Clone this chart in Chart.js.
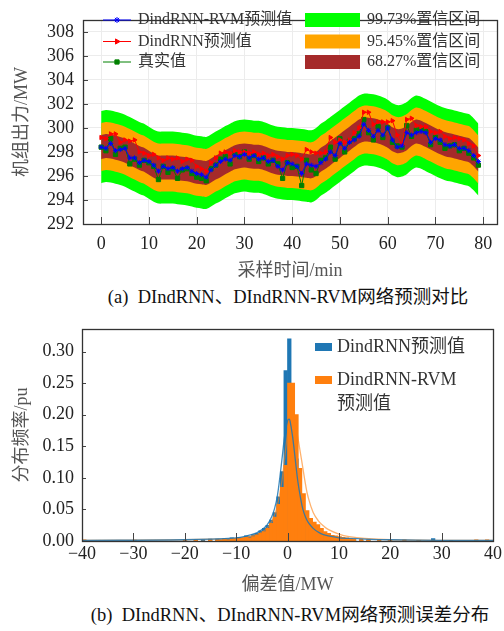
<!DOCTYPE html>
<html>
<head>
<meta charset="utf-8">
<script src="https://cdn.jsdelivr.net/npm/chart.js"></script>
<style>
body{margin:0;background:#fff;width:504px;height:631px;overflow:hidden;position:relative;
  font-family:"Liberation Serif","Noto Sans CJK SC",serif;}
#graficoPrediccion{position:absolute;left:0;top:0;}
#graficoError{position:absolute;left:0;top:310px;}
.pie{position:absolute;width:504px;text-align:center;font-size:18.5px;color:#111;white-space:pre;line-height:22px;}
</style>
</head>
<body>
<canvas id="graficoPrediccion" width="504" height="285"></canvas>
<div class="pie" style="left:36px;top:286px;">(a)  DIndRNN、DIndRNN-RVM网络预测对比</div>
<canvas id="graficoError" width="504" height="290"></canvas>
<div class="pie" style="left:38px;top:604px;">(b)  DIndRNN、DIndRNN-RVM网络预测误差分布</div>
<script>
//datos grafico (a)
const minutos = Array.from({length: 80}, (_, i) => i);

const valorReal = [
  298.4, 298.1, 299.1, 297.8, 298.3, 298.4, 297.0, 297.4, 296.9, 297.3,
  297.1, 296.8, 295.7, 296.8, 296.3, 296.6, 295.8, 296.5, 296.6, 296.2,
  295.9, 295.8, 295.6, 296.6, 296.9, 297.4, 297.6, 297.0, 297.9, 297.6,
  298.0, 297.4, 297.7, 297.2, 297.5, 297.0, 297.3, 297.0, 295.8, 297.1,
  296.7, 296.8, 295.2, 297.3, 296.5, 296.2, 297.3, 297.5, 298.4, 297.4,
  299.1, 298.0, 298.9, 299.1, 299.5, 300.7, 299.6, 299.0, 300.1, 299.2,
  300.0, 298.8, 298.5, 298.4, 300.2, 299.3, 299.8, 299.9, 299.7, 298.6,
  299.2, 298.8, 298.3, 298.5, 298.6, 298.1, 298.3, 297.9, 297.5, 296.9
];
const prediccionRVM = [
  298.4, 298.3, 298.7, 298.1, 298.2, 298.3, 297.5, 297.5, 297.1, 297.3,
  297.2, 296.9, 296.4, 296.8, 296.6, 296.7, 296.4, 296.6, 296.7, 296.4,
  296.2, 296.1, 295.9, 296.5, 296.9, 297.2, 297.4, 297.3, 297.7, 297.6,
  297.8, 297.5, 297.7, 297.4, 297.5, 297.2, 297.3, 296.8, 296.5, 297.1,
  297.0, 296.8, 296.2, 297.0, 296.9, 296.8, 297.1, 297.4, 298.0, 297.7,
  298.7, 298.3, 298.8, 299.0, 299.3, 300.3, 299.8, 299.3, 299.8, 299.4,
  300.0, 299.0, 298.4, 298.5, 299.6, 299.4, 299.6, 299.7, 299.6, 298.8,
  299.1, 299.0, 298.6, 298.5, 298.6, 298.3, 298.3, 298.1, 297.7, 297.2
];
const prediccionRNN = [
  299.2, 299.1, 299.5, 299.5, 298.8, 299.0, 298.9, 299.0, 298.0, 297.9,
  297.7, 297.8, 297.5, 297.3, 297.5, 297.4, 297.5, 297.2, 297.4, 297.3,
  296.8, 296.6, 296.4, 297.1, 297.5, 297.9, 298.0, 297.9, 298.1, 298.0,
  298.0, 297.9, 298.0, 297.8, 297.9, 297.7, 297.8, 297.6, 297.4, 297.7,
  297.8, 297.7, 297.4, 298.2, 298.0, 297.9, 297.9, 298.0, 299.2, 298.8,
  299.0, 298.8, 299.0, 299.6, 300.0, 301.3, 301.3, 300.3, 300.5, 300.5,
  300.5, 300.6, 299.4, 298.6, 300.7, 300.8, 300.2, 300.1, 300.1, 299.7,
  299.6, 299.7, 299.3, 299.1, 299.2, 299.1, 299.0, 298.7, 298.5, 297.7
];
// centro de las bandas de confianza
const centroBanda = [
  298.4, 298.5, 298.45, 298.35, 298.25, 298.1, 297.9, 297.7, 297.5, 297.35,
  297.1, 296.85, 296.7, 296.7, 296.7, 296.7, 296.65, 296.6, 296.55, 296.45,
  296.35, 296.3, 296.25, 296.45, 296.7, 296.9, 297.15, 297.35, 297.55, 297.65,
  297.7, 297.65, 297.6, 297.6, 297.5, 297.35, 297.2, 297.1, 297.05, 297.0,
  297.0, 296.95, 296.9, 296.85, 296.8, 297.0, 297.35, 297.6, 297.9, 298.2,
  298.5, 298.8, 299.1, 299.4, 299.7, 299.85, 299.85, 299.8, 299.7, 299.55,
  299.35, 299.05, 298.9, 298.95, 299.15, 299.5, 299.7, 299.6, 299.4, 299.2,
  299.0, 298.8, 298.65, 298.55, 298.45, 298.35, 298.25, 298.15, 297.8, 297.35
];
const sigmaBanda = 1.0;
const nivelesBanda = ['68.27%置信区间', '95.45%置信区间', '99.73%置信区间'];
const multiplosBanda = [1, 2, 3];
const coloresBanda = ['#a52a2a', '#ffa500', '#00ff00'];

//datos grafico (b)
const centrosBin = [
  -39.55, -29.75, -19.95, -17.85, -16.45, -15.05, -13.65, -12.95, -12.25, -11.55,
  -10.85, -10.15, -9.45, -8.75, -8.05, -7.35, -6.65, -5.95, -5.25, -4.55,
  -3.85, -3.15, -2.45, -1.75, -1.05, -0.35, 0.35, 1.05, 1.75, 2.45,
  3.15, 3.85, 4.55, 5.25, 5.95, 6.65, 7.35, 8.05, 8.75, 9.45,
  10.15, 10.85, 11.55, 12.25, 12.95, 14.35, 15.75, 17.85, 19.95, 22.75,
  25.55, 28.35, 31.85, 36.75, 38.85
];
const frecuenciaRNN = [
  0, 0, 0, 0.002, 0.002, 0.003, 0.003, 0.002, 0.004, 0.003,
  0.005, 0.004, 0.006, 0.005, 0.008, 0.007, 0.010, 0.012, 0.016, 0.020,
  0.025, 0.033, 0.045, 0.070, 0.110, 0.270, 0.320, 0.200, 0.130, 0.070,
  0.045, 0.030, 0.022, 0.016, 0.013, 0.010, 0.008, 0.006, 0.005, 0.004,
  0.004, 0.003, 0.002, 0.002, 0.002, 0.001, 0.002, 0, 0.001, 0,
  0.001, 0.004, 0, 0.001, 0
];
const frecuenciaRVM = [
  0.002, 0.0015, 0.002, 0.001, 0, 0.002, 0.002, 0.002, 0.003, 0.002,
  0.003, 0.004, 0.004, 0.005, 0.006, 0.005, 0.007, 0.009, 0.012, 0.015,
  0.020, 0.028, 0.038, 0.058, 0.085, 0.120, 0.250, 0.250, 0.200, 0.115,
  0.075, 0.048, 0.036, 0.030, 0.026, 0.020, 0.015, 0.012, 0.009, 0.008,
  0.007, 0.006, 0.005, 0.004, 0.003, 0.003, 0.002, 0.002, 0.001, 0.002,
  0.001, 0.001, 0.001, 0.002, 0.002
];
const curvaX = [-40, -20, -10, -8, -6, -5, -4, -3, -2.5, -2, -1.5, -1, -0.5, 0, 0.3, 0.5, 1, 1.5, 2, 2.5, 3, 3.5, 4, 5, 6, 7, 8, 10, 12, 15, 20, 30, 40];
const curvaRNN = [0.001, 0.002, 0.005, 0.008, 0.013, 0.018, 0.025, 0.040, 0.052, 0.070, 0.100, 0.135, 0.170, 0.190, 0.193, 0.190, 0.165, 0.130, 0.095, 0.070, 0.050, 0.038, 0.030, 0.020, 0.014, 0.010, 0.008, 0.005, 0.004, 0.003, 0.002, 0.001, 0.001];
const curvaRVM = [0.001, 0.002, 0.004, 0.006, 0.010, 0.014, 0.020, 0.032, 0.042, 0.055, 0.075, 0.100, 0.135, 0.170, 0.185, 0.195, 0.200, 0.190, 0.165, 0.140, 0.115, 0.090, 0.070, 0.045, 0.032, 0.024, 0.018, 0.011, 0.007, 0.004, 0.002, 0.001, 0.001];
const etiquetasB = [['DindRNN预测值'], ['DindRNN-RVM', '预测值']];

const fuente = '"Liberation Serif", "Noto Sans CJK SC", serif';
Chart.defaults.font.family = fuente;
Chart.defaults.color = '#222';

// marco y ticks hacia adentro
const marcoEjes = {
  id: 'marcoEjes',
  afterDatasetsDraw(chart, args, opts) {
    const {ctx, chartArea: a, scales: {x, y}} = chart;
    ctx.save();
    ctx.strokeStyle = '#444';
    ctx.lineWidth = 1;
    x.ticks.forEach(t => {
      const px = Math.round(x.getPixelForValue(t.value)) + 0.5;
      ctx.beginPath(); ctx.moveTo(px, a.bottom); ctx.lineTo(px, a.bottom - opts.largoX); ctx.stroke();
    });
    y.ticks.forEach(t => {
      const py = Math.round(y.getPixelForValue(t.value)) + 0.5;
      ctx.beginPath(); ctx.moveTo(a.left, py); ctx.lineTo(a.left + opts.largoY, py); ctx.stroke();
    });
    ctx.lineWidth = 1.3;
    ctx.strokeStyle = '#333';
    ctx.strokeRect(Math.round(a.left) + 0.5, Math.round(a.top) + 0.5, Math.round(a.right - a.left), Math.round(a.bottom - a.top));
    ctx.restore();
  }
};

function marcador(ctx, estilo, rot, x, y) {
  if (Chart.helpers && Chart.helpers.drawPoint) {
    Chart.helpers.drawPoint(ctx, {pointStyle: estilo, rotation: rot, radius: 3, borderWidth: 1}, x, y);
  } else {
    ctx.fillRect(x - 2.5, y - 2.5, 5, 5);
  }
}

const leyendaA = {
  id: 'leyendaA',
  afterDraw(chart) {
    const ctx = chart.ctx;
    const filas = [20, 41.5, 62];
    ctx.save();
    ctx.font = '16px ' + fuente;
    ctx.textBaseline = 'middle';
    [0, 1, 2].forEach((i, r) => {
      const ds = chart.data.datasets[i];
      const y = filas[r];
      ctx.strokeStyle = ds.borderColor;
      ctx.fillStyle = ds.borderColor;
      ctx.lineWidth = 1;
      ctx.beginPath(); ctx.moveTo(103, y); ctx.lineTo(131, y); ctx.stroke();
      marcador(ctx, ds.pointStyle, ds.pointRotation || 0, 117, y);
      ctx.fillStyle = '#333';
      ctx.fillText(ds.label, 138, y);
    });
    // bandas: 99.73 arriba, 68.27 abajo
    [2, 1, 0].forEach((b, r) => {
      const y = filas[r];
      ctx.fillStyle = coloresBanda[b];
      ctx.fillRect(305, y - 7, 55, 14);
      ctx.fillStyle = '#333';
      ctx.fillText(nivelesBanda[b], 367, y);
    });
    ctx.restore();
  }
};

const leyendaB = {
  id: 'leyendaB',
  afterDraw(chart) {
    const ctx = chart.ctx;
    const top = chart.canvas.offsetTop;
    const filas = [347, 380];
    ctx.save();
    ctx.font = '18px ' + fuente;
    ctx.textBaseline = 'middle';
    [3, 2].forEach((i, r) => {
      const ds = chart.data.datasets[i];
      const y = filas[r] - top;
      ctx.fillStyle = ds.backgroundColor;
      ctx.fillRect(315, y - 4, 17, 8);
      ctx.fillStyle = '#333';
      etiquetasB[r].forEach((t, k) => ctx.fillText(t, 337, y + k * 24));
    });
    ctx.restore();
  }
};

const puntos = serie => minutos.map((m, i) => ({x: m, y: serie[i]}));

const datasetsA = [
  {label: 'DindRNN-RVM预测值', data: puntos(prediccionRVM), borderColor: '#0000ff', backgroundColor: '#0000ff',
   borderWidth: 1, pointStyle: 'star', pointRadius: 2.5, pointBorderWidth: 1, fill: false},
  {label: 'DindRNN预测值', data: puntos(prediccionRNN), borderColor: '#ff0000', backgroundColor: '#ff0000',
   borderWidth: 1, pointStyle: 'triangle', pointRotation: 90, pointRadius: 2.5, pointBorderWidth: 1, fill: false},
  {label: '真实值', data: puntos(valorReal), borderColor: '#008000', backgroundColor: '#008000',
   borderWidth: 1, pointStyle: 'rect', pointRadius: 3, pointBorderWidth: 1, fill: false}
];
multiplosBanda.forEach((k, b) => {
  datasetsA.push({label: nivelesBanda[b], data: puntos(centroBanda.map(v => v + k * sigmaBanda)),
    borderWidth: 0, pointRadius: 0, backgroundColor: coloresBanda[b], fill: '+1', tension: 0.3});
  datasetsA.push({label: '', data: puntos(centroBanda.map(v => v - k * sigmaBanda)),
    borderWidth: 0, pointRadius: 0, fill: false, tension: 0.3});
});

const ctxPrediccion = document.getElementById('graficoPrediccion');
new Chart(ctxPrediccion, {
  type: 'line',
  data: {datasets: datasetsA},
  options: {
    responsive: false,
    animation: false,
    layout: {padding: {top: 5, right: 7, left: 0, bottom: 0}},
    plugins: {legend: {display: false}, tooltip: {enabled: false}, marcoEjes: {largoX: 7, largoY: 5}},
    scales: {
      x: {
        type: 'linear', min: -3.8, max: 82.9,
        afterFit: s => { s.height = 61; },
        ticks: {stepSize: 10, includeBounds: false, padding: 9, font: {size: 18}, color: '#222'},
        grid: {color: '#ececec', drawTicks: false},
        border: {display: false},
        title: {display: true, text: '采样时间/min', font: {size: 18}, color: '#555', padding: {top: 0, bottom: 3}}
      },
      y: {
        min: 292, max: 309,
        afterFit: s => { s.width = 83; },
        ticks: {stepSize: 2, includeBounds: false, padding: 9, font: {size: 18}, color: '#222'},
        grid: {color: '#ececec', drawTicks: false},
        border: {display: false},
        title: {display: true, text: '机组出力/MW', font: {size: 18}, color: '#555', padding: {top: 11, bottom: 0}}
      }
    }
  },
  plugins: [marcoEjes, leyendaA]
});

const ctxError = document.getElementById('graficoError');
new Chart(ctxError, {
  type: 'bar',
  data: {
    datasets: [
      {type: 'line', label: 'RNN核密度', data: curvaX.map((v, i) => ({x: v, y: curvaRNN[i]})),
       borderColor: 'rgba(31,119,180,0.85)', borderWidth: 1.3, pointRadius: 0, tension: 0.4, fill: false, order: 0},
      {type: 'line', label: 'RVM核密度', data: curvaX.map((v, i) => ({x: v, y: curvaRVM[i]})),
       borderColor: 'rgba(255,127,14,0.6)', borderWidth: 1.3, pointRadius: 0, tension: 0.4, fill: false, order: 1},
      {label: 'DindRNN-RVM预测值', data: centrosBin.map((v, i) => ({x: v, y: frecuenciaRVM[i]})),
       backgroundColor: '#ff7f0e', borderWidth: 0, order: 2},
      {label: 'DindRNN预测值', data: centrosBin.map((v, i) => ({x: v, y: frecuenciaRNN[i]})),
       backgroundColor: '#1f77b4', borderWidth: 0, order: 3}
    ]
  },
  options: {
    responsive: false,
    animation: false,
    grouped: false,
    barPercentage: 1,
    categoryPercentage: 1,
    layout: {padding: {top: 17, right: 7, left: 0, bottom: 0}},
    plugins: {legend: {display: false}, tooltip: {enabled: false}, marcoEjes: {largoX: 8, largoY: 4}},
    scales: {
      x: {
        type: 'linear', min: -40, max: 40, offset: false,
        afterFit: s => { s.height = 59; },
        ticks: {stepSize: 10, padding: 2, font: {size: 18}, color: '#222',
          callback: v => v < 0 ? '\u2212' + Math.abs(v) : String(v)},
        grid: {display: false, offset: false, drawTicks: false},
        border: {display: false},
        title: {display: true, text: '偏差值/MW', font: {size: 18}, color: '#555', padding: {top: 0, bottom: 4}}
      },
      y: {
        min: 0, max: 0.336,
        afterFit: s => { s.width = 82; },
        ticks: {stepSize: 0.05, includeBounds: false, padding: 8, font: {size: 18}, color: '#222',
          callback: v => v.toFixed(2)},
        grid: {display: false, drawTicks: false},
        border: {display: false},
        title: {display: true, text: '分布频率/pu', font: {size: 18}, color: '#555', padding: {top: 11, bottom: 0}}
      }
    }
  },
  plugins: [marcoEjes, leyendaB]
});
</script>
</body>
</html>
